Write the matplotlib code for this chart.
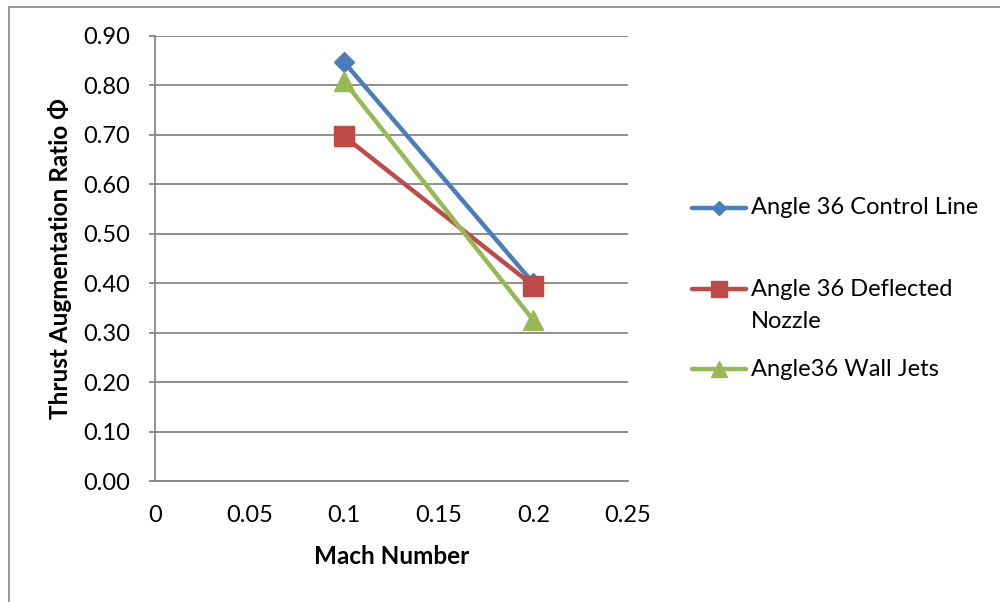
import matplotlib
matplotlib.use("Agg")
import matplotlib.pyplot as plt
from matplotlib.patches import Rectangle
from matplotlib.lines import Line2D

plt.rcParams['font.family'] = ['Lato', 'DejaVu Sans']

mach = [0.1, 0.2]
control_line = [0.847, 0.400]
deflected_nozzle = [0.697, 0.395]
wall_jets = [0.808, 0.325]
series_names = ["Angle 36 Control Line", "Angle 36 Deflected\nNozzle", "Angle36 Wall Jets"]
colors = ["#4A7EBB", "#BE4B48", "#98B954"]
markers = ["D", "s", "^"]
xticks = [0, 0.05, 0.1, 0.15, 0.2, 0.25]
xtick_labels = ["0", "0.05", "0.1", "0.15", "0.2", "0.25"]
yticks = [0.0, 0.1, 0.2, 0.3, 0.4, 0.5, 0.6, 0.7, 0.8, 0.9]

W, H = 1000, 602
fig = plt.figure(figsize=(W / 100, H / 100), dpi=100)
fig.patches.append(Rectangle((8.5 / W, -0.01), 1.1, 1 - 7 / H + 0.01, transform=fig.transFigure,
                             fill=False, edgecolor="#868686", linewidth=1.2))
ax = fig.add_axes([155 / W, 1 - 481 / H, (628 - 155) / W, (481 - 36) / H])

data = [control_line, deflected_nozzle, wall_jets]
msizes = [10, 14, 14]
legend_msizes = [7.5, 12, 12]
for ys, name, c, m, ms in zip(data, series_names, colors, markers, msizes):
    ax.plot(mach, ys, color=c, marker=m, markersize=ms, linewidth=3.2, label=name,
            solid_capstyle='round', zorder=3)

ax.set_xlim(0, 0.25)
ax.set_ylim(0, 0.9)
ax.set_xticks(xticks)
ax.set_xticklabels(xtick_labels)
ax.set_yticks(yticks)
ax.set_yticklabels([f"{v:.2f}" for v in yticks])
ax.yaxis.grid(True, color="#868686", linewidth=1.3)
ax.set_axisbelow(True)
for s in ["top", "right"]:
    ax.spines[s].set_visible(False)
for s in ["left", "bottom"]:
    ax.spines[s].set_color("#868686")
    ax.spines[s].set_linewidth(1.3)
ax.tick_params(axis='both', colors="#868686", labelcolor="black", labelsize=17, width=1.3)
ax.tick_params(axis='x', length=0, pad=17)
ax.tick_params(axis='y', length=4, pad=14)

ax.set_xlabel("Mach Number", fontsize=17.5, fontweight='bold', labelpad=14)
ax.set_ylabel("Thrust Augmentation Ratio Φ", fontsize=17.5, fontweight='bold', labelpad=8)

# manual legend (layout in pixel positions)
entry_y = [208, 289, 369]
for name, c, m, ms, yy in zip(series_names, colors, markers, legend_msizes, entry_y):
    yf = 1 - yy / H
    fig.add_artist(Line2D([692 / W, 746 / W], [yf, yf], transform=fig.transFigure,
                          color=c, linewidth=3.2, solid_capstyle='round'))
    fig.add_artist(Line2D([719 / W], [yf], transform=fig.transFigure, color=c,
                          marker=m, markersize=ms, linestyle='none'))
    for k, line in enumerate(name.split("\n")):
        fig.text(751 / W, 1 - (yy + 32 * k) / H, line, fontsize=17, va='center', ha='left')

fig.savefig("out.png", dpi=100)
